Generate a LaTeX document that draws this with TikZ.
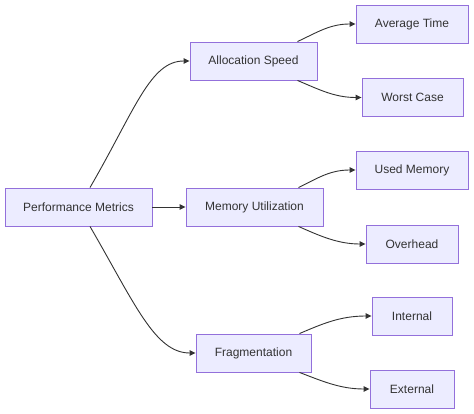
\documentclass[tikz,border=0pt]{standalone}
\usepackage{fontspec}
\setmainfont{Liberation Sans}
\usetikzlibrary{arrows.meta,calc}
\definecolor{nodefill}{HTML}{ECECFF}
\definecolor{nodeline}{HTML}{9370DB}
\definecolor{txt}{HTML}{333333}
\definecolor{edge}{HTML}{333333}
\begin{document}
\begin{tikzpicture}[x=1pt,y=-1pt,
  box/.style={draw=nodeline,fill=nodefill,line width=0.9pt,minimum height=38pt,inner sep=0pt,text=txt,font=\fontsize{12}{14}\selectfont},
  conn/.style={draw=edge,line width=0.9pt,-{Triangle[length=6pt,width=5.5pt]}}]
\useasboundingbox (0,0) rectangle (474,414);
\node[box,minimum width=147pt] (pm) at (78.5,207) {Performance Metrics};
\node[box,minimum width=127pt] (as) at (253.5,61) {Allocation Speed};
\node[box,minimum width=137pt] (mu) at (254.5,207) {Memory Utilization};
\node[box,minimum width=115pt] (fr) at (253.5,353) {Fragmentation};
\node[box,minimum width=112pt] (at) at (412,24) {Average Time};
\node[box,minimum width=101pt] (wc) at (412.5,97.5) {Worst Case};
\node[box,minimum width=112pt] (um) at (412,170) {Used Memory};
\node[box,minimum width=92pt] (oh) at (412,244) {Overhead};
\node[box,minimum width=80pt] (in) at (412,316) {Internal};
\node[box,minimum width=84pt] (ex) at (412,389) {External};

\draw[conn] ([xshift=11.5pt]pm.north) .. controls (135,110) and (150,61) .. (as.west);
\draw[conn] ([xshift=11.5pt]pm.south) .. controls (135,304) and (155,353) .. (fr.west);
\draw[conn] (pm.east) -- (mu.west);

\draw[conn] ([xshift=44pt]as.north) .. controls (318,32) and (330,24) .. (at.west);
\draw[conn] ([xshift=44pt]as.south) .. controls (320,90) and (335,97.5) .. (wc.west);
\draw[conn] ([xshift=44pt]mu.north) .. controls (318,178) and (330,170) .. (um.west);
\draw[conn] ([xshift=44pt]mu.south) .. controls (320,236) and (338,244) .. (oh.west);
\draw[conn] ([xshift=46pt]fr.north) .. controls (322,324) and (340,316) .. (in.west);
\draw[conn] ([xshift=46pt]fr.south) .. controls (322,381) and (340,389) .. (ex.west);
\end{tikzpicture}
\end{document}
